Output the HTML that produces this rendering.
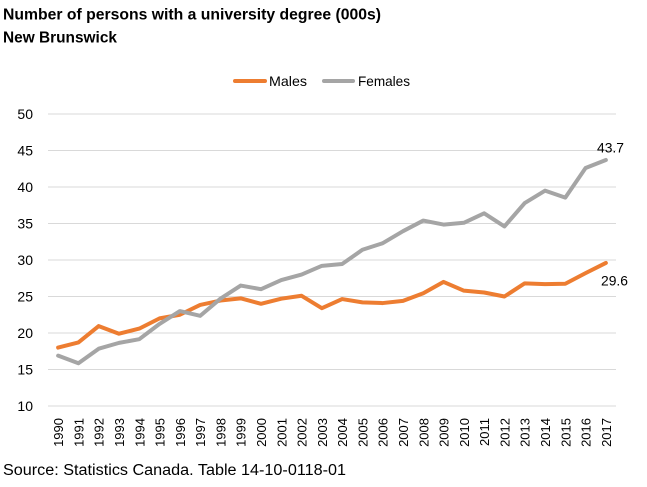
<!DOCTYPE html>
<html><head><meta charset="utf-8"><style>
html,body{margin:0;padding:0;background:#fff;}
svg{display:block;font-family:"Liberation Sans",Arial,sans-serif;}
</style></head><body>
<svg width="647" height="487" viewBox="0 0 647 487" xmlns="http://www.w3.org/2000/svg">
<rect width="647" height="487" fill="#fff"/>
<text x="3" y="19.5" font-size="15.5" font-weight="bold" fill="#000" textLength="378" lengthAdjust="spacingAndGlyphs">Number of persons with a university degree (000s)</text>
<text x="3" y="42.7" font-size="15.5" font-weight="bold" fill="#000" textLength="114" lengthAdjust="spacingAndGlyphs">New Brunswick</text>
<line x1="235" y1="81" x2="265" y2="81" stroke="#ED7D31" stroke-width="4" stroke-linecap="round"/>
<text x="269" y="86" font-size="14" fill="#000" textLength="38" lengthAdjust="spacingAndGlyphs">Males</text>
<line x1="324" y1="81" x2="353" y2="81" stroke="#A5A5A5" stroke-width="4" stroke-linecap="round"/>
<text x="358" y="86" font-size="14" fill="#000" textLength="52" lengthAdjust="spacingAndGlyphs">Females</text>
<g stroke="#D9D9D9" stroke-width="1">
<line x1="48" y1="114" x2="616" y2="114"/>
<line x1="48" y1="150.5" x2="616" y2="150.5"/>
<line x1="48" y1="187" x2="616" y2="187"/>
<line x1="48" y1="223.5" x2="616" y2="223.5"/>
<line x1="48" y1="260" x2="616" y2="260"/>
<line x1="48" y1="296.5" x2="616" y2="296.5"/>
<line x1="48" y1="333" x2="616" y2="333"/>
<line x1="48" y1="369.5" x2="616" y2="369.5"/>
<line x1="48" y1="406" x2="616" y2="406"/>
</g>
<g font-size="14" fill="#000" text-anchor="end">
<text x="33" y="119">50</text>
<text x="33" y="155.5">45</text>
<text x="33" y="192">40</text>
<text x="33" y="228.5">35</text>
<text x="33" y="265">30</text>
<text x="33" y="301.5">25</text>
<text x="33" y="338">20</text>
<text x="33" y="374.5">15</text>
<text x="33" y="411">10</text>
</g>
<g font-size="13" fill="#000" text-anchor="end">
<text transform="translate(63.1,418) rotate(-90)">1990</text>
<text transform="translate(83.4,418) rotate(-90)">1991</text>
<text transform="translate(103.7,418) rotate(-90)">1992</text>
<text transform="translate(124,418) rotate(-90)">1993</text>
<text transform="translate(144.3,418) rotate(-90)">1994</text>
<text transform="translate(164.6,418) rotate(-90)">1995</text>
<text transform="translate(184.9,418) rotate(-90)">1996</text>
<text transform="translate(205.1,418) rotate(-90)">1997</text>
<text transform="translate(225.4,418) rotate(-90)">1998</text>
<text transform="translate(245.7,418) rotate(-90)">1999</text>
<text transform="translate(266,418) rotate(-90)">2000</text>
<text transform="translate(286.3,418) rotate(-90)">2001</text>
<text transform="translate(306.6,418) rotate(-90)">2002</text>
<text transform="translate(326.9,418) rotate(-90)">2003</text>
<text transform="translate(347.1,418) rotate(-90)">2004</text>
<text transform="translate(367.4,418) rotate(-90)">2005</text>
<text transform="translate(387.7,418) rotate(-90)">2006</text>
<text transform="translate(408,418) rotate(-90)">2007</text>
<text transform="translate(428.3,418) rotate(-90)">2008</text>
<text transform="translate(448.6,418) rotate(-90)">2009</text>
<text transform="translate(468.9,418) rotate(-90)">2010</text>
<text transform="translate(489.1,418) rotate(-90)">2011</text>
<text transform="translate(509.4,418) rotate(-90)">2012</text>
<text transform="translate(529.7,418) rotate(-90)">2013</text>
<text transform="translate(550,418) rotate(-90)">2014</text>
<text transform="translate(570.3,418) rotate(-90)">2015</text>
<text transform="translate(590.6,418) rotate(-90)">2016</text>
<text transform="translate(610.9,418) rotate(-90)">2017</text>
</g>
<polyline fill="none" stroke="#ED7D31" stroke-width="4" stroke-linejoin="round" stroke-linecap="round" points="58.14,347.6 78.43,342.49 98.71,326.07 119,333.73 139.29,328.62 159.57,318.4 179.86,314.75 200.14,304.9 220.43,300.52 240.71,298.33 261,303.8 281.29,298.69 301.57,295.77 321.86,308.18 342.14,299.06 362.43,302.34 382.71,303.07 403,300.88 423.29,293.22 443.57,281.9 463.86,290.66 484.14,292.49 504.43,296.5 524.71,283.36 545,284.09 565.29,283.73 585.57,273.14 605.86,262.92"/>
<polyline fill="none" stroke="#A5A5A5" stroke-width="4" stroke-linejoin="round" stroke-linecap="round" points="58.14,355.63 78.43,363.3 98.71,348.7 119,342.86 139.29,339.2 159.57,323.88 179.86,311.1 200.14,315.85 220.43,298.69 240.71,285.55 261,289.2 281.29,280.08 301.57,274.6 321.86,265.84 342.14,264.02 362.43,249.78 382.71,243.21 403,231.17 423.29,220.58 443.57,224.6 463.86,222.77 484.14,213.28 504.43,226.42 524.71,203.06 545,190.65 565.29,197.59 585.57,168.02 605.86,159.99"/>
<text x="597" y="152.7" font-size="14" fill="#000" textLength="27" lengthAdjust="spacingAndGlyphs">43.7</text>
<text x="601" y="285.3" font-size="14" fill="#000" textLength="27" lengthAdjust="spacingAndGlyphs">29.6</text>
<text x="3" y="475" font-size="15.5" fill="#000" textLength="343" lengthAdjust="spacingAndGlyphs">Source: Statistics Canada. Table 14-10-0118-01</text>
</svg>
</body></html>
